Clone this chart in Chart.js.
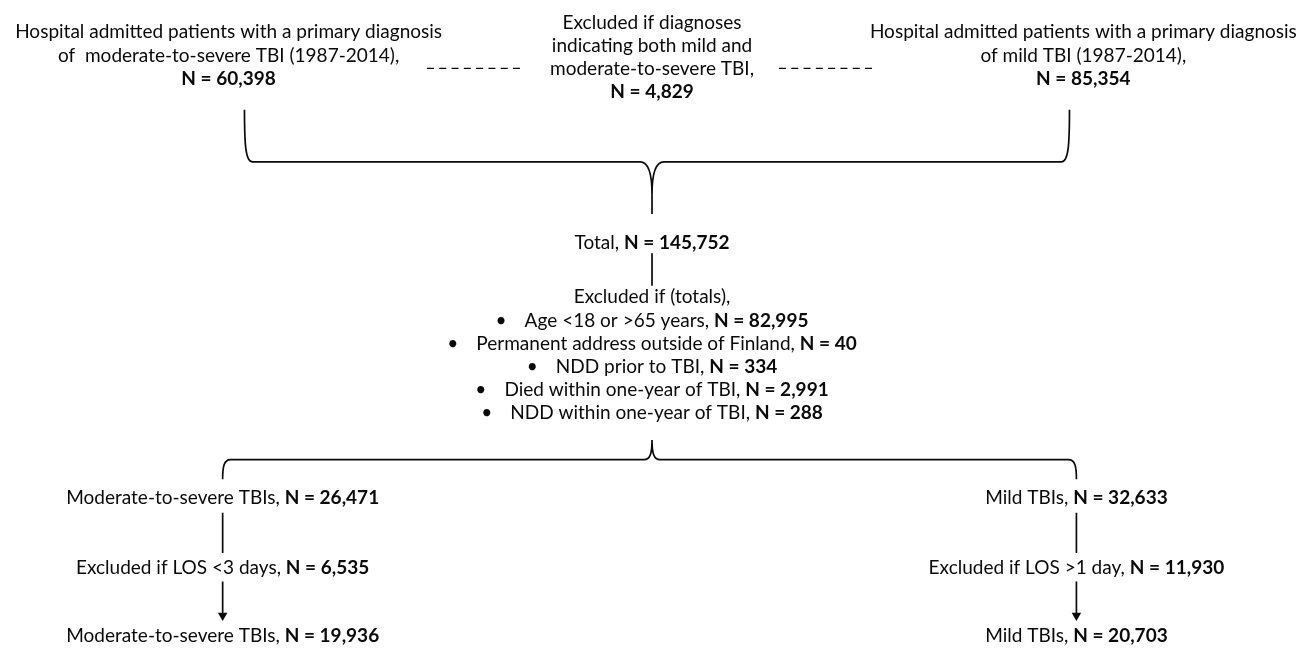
<!DOCTYPE html>
<html>
<head>
<meta charset="utf-8">
<script src="https://cdn.jsdelivr.net/npm/chart.js@4.4.1/dist/chart.umd.min.js"></script>
<style>
  html, body { margin: 0; background: #fff; }
  #wrap { width: 1308px; height: 651px; position: relative; }
</style>
</head>
<body>
<div id="wrap"><canvas id="flow"></canvas></div>
<script>
(function () {
  'use strict';

  // ---- data ----
  const sourceLabels = [
    ['Hospital admitted patients with a primary diagnosis', 'of  moderate-to-severe TBI (1987-2014),'],
    ['Hospital admitted patients with a primary diagnosis', 'of mild TBI (1987-2014),'],
  ];
  const sourceCounts = [60398, 85354];
  const overlapLabel = ['Excluded if diagnoses', 'indicating both mild and', 'moderate-to-severe TBI,'];
  const overlapCount = 4829;
  const totalCount = 145752;
  const exclusionTitle = 'Excluded if (totals),';
  const exclusionReasons = [
    'Age <18 or >65 years',
    'Permanent address outside of Finland',
    'NDD prior to TBI',
    'Died within one-year of TBI',
    'NDD within one-year of TBI',
  ];
  const exclusionCounts = [82995, 40, 334, 2991, 288];
  const groupNames = ['Moderate-to-severe TBIs', 'Mild TBIs'];
  const groupCounts = [26471, 32633];
  const losRules = ['Excluded if LOS <3 days', 'Excluded if LOS >1 day'];
  const losCounts = [6535, 11930];
  const finalCounts = [19936, 20703];

  // ---- layout (canvas units, 1:1 with pixels; y = text baselines) ----
  const W = 1308, H = 651;
  const topX = [225, 652, 1087];
  const lowX = [219, 1080];
  const midX = 652;
  const topRowY = 33, topLH = 24;
  const midTopY = 23.5, midLH = 23.4;
  const totalY = 248;
  const exclY = 303, exclLH = 23.6;
  const braceTop = { left: 241, right: 1073, top: 106, bar: 159, tip: 192, tail: 212 };
  const braceLow = { left: 219, right: 1080, drop: 482, bar: 462, tip: 442 };
  const groupY = 507, losY = 578, finalY = 647;
  const dashY = 64;
  const dashSpans = [[425, 521], [780, 876]];

  const INK = '#0a0a0a';
  const FAMILY = 'Lato, "Open Sans", sans-serif';

  function fmt(n) { return n.toLocaleString('en-US'); }
  function nPart(n) { return ['N = ' + fmt(n), true]; }

  let FS = 18;
  (function fitSize() {
    const c = document.createElement('canvas').getContext('2d');
    c.font = '20px ' + FAMILY;
    const w = c.measureText(sourceLabels[0][0]).width;
    FS = Math.min(20, 20 * 427 / w);
  })();

  function fontOf(bold) { return (bold ? 'bold ' : '') + FS.toFixed(2) + 'px ' + FAMILY; }

  // text lines: [x, baselineY, parts]
  function buildText() {
    const lines = [];
    [0, 1].forEach(i => {
      const x = i === 0 ? topX[0] : topX[2];
      sourceLabels[i].forEach((t, k) => lines.push([x, topRowY + k * topLH, [[t, false]]]));
      lines.push([x, topRowY + 2 * topLH, [nPart(sourceCounts[i])]]);
    });
    overlapLabel.forEach((t, k) => lines.push([topX[1], midTopY + k * midLH, [[t, false]]]));
    lines.push([topX[1], midTopY + 3 * midLH, [nPart(overlapCount)]]);
    lines.push([midX, totalY, [['Total, ', false], nPart(totalCount)]]);
    lines.push([midX, exclY, [[exclusionTitle, false]]]);
    exclusionReasons.forEach((r, k) => {
      lines.push([midX, exclY + (k + 1) * exclLH, [['\u2022', false], [null, 18], [r + ', ', false], nPart(exclusionCounts[k])]]);
    });
    [0, 1].forEach(i => {
      lines.push([lowX[i], groupY, [[groupNames[i] + ', ', false], nPart(groupCounts[i])]]);
      lines.push([lowX[i], losY, [[losRules[i] + ', ', false], nPart(losCounts[i])]]);
      lines.push([lowX[i], finalY, [[groupNames[i] + ', ', false], nPart(finalCounts[i])]]);
    });
    return lines;
  }

  function drawRich(ctx, px, py, parts) {
    let total = 0;
    const widths = parts.map(p => {
      if (p[0] === null) return p[1];
      ctx.font = fontOf(p[1]);
      return ctx.measureText(p[0]).width;
    });
    widths.forEach(w => { total += w; });
    let x = px - total / 2;
    parts.forEach((p, i) => {
      if (p[0] !== null) {
        ctx.font = fontOf(p[1]);
        ctx.fillText(p[0], x, py);
      }
      x += widths[i];
    });
  }

  const flowPlugin = {
    id: 'flowText',
    afterDatasetsDraw(chart) {
      const ctx = chart.ctx;
      const sx = v => chart.scales.x.getPixelForValue(v);
      const sy = v => chart.scales.y.getPixelForValue(v);
      ctx.save();
      ctx.strokeStyle = INK;
      ctx.lineWidth = 1.7;
      ctx.lineJoin = 'round';

      // upper brace (opens up, tip down)
      const b = braceTop;
      ctx.beginPath();
      ctx.moveTo(sx(b.left), sy(b.top));
      ctx.bezierCurveTo(sx(b.left), sy(b.top + 35), sx(b.left + 1), sy(b.bar), sx(b.left + 8), sy(b.bar));
      ctx.lineTo(sx(midX - 12), sy(b.bar));
      ctx.bezierCurveTo(sx(midX - 4), sy(b.bar), sx(midX), sy(b.bar + 10), sx(midX), sy(b.tip));
      ctx.moveTo(sx(b.right), sy(b.top));
      ctx.bezierCurveTo(sx(b.right), sy(b.top + 35), sx(b.right - 1), sy(b.bar), sx(b.right - 8), sy(b.bar));
      ctx.lineTo(sx(midX + 12), sy(b.bar));
      ctx.bezierCurveTo(sx(midX + 4), sy(b.bar), sx(midX), sy(b.bar + 10), sx(midX), sy(b.tip));
      ctx.lineTo(sx(midX), sy(b.tail));
      ctx.stroke();

      // lower brace (opens down, tip up)
      const c = braceLow;
      ctx.beginPath();
      ctx.moveTo(sx(c.left), sy(c.drop));
      ctx.bezierCurveTo(sx(c.left), sy(c.bar + 8), sx(c.left + 1), sy(c.bar), sx(c.left + 8), sy(c.bar));
      ctx.lineTo(sx(midX - 8), sy(c.bar));
      ctx.bezierCurveTo(sx(midX - 2), sy(c.bar), sx(midX), sy(c.bar - 6), sx(midX), sy(c.tip));
      ctx.moveTo(sx(c.right), sy(c.drop));
      ctx.bezierCurveTo(sx(c.right), sy(c.bar + 8), sx(c.right - 1), sy(c.bar), sx(c.right - 8), sy(c.bar));
      ctx.lineTo(sx(midX + 8), sy(c.bar));
      ctx.bezierCurveTo(sx(midX + 2), sy(c.bar), sx(midX), sy(c.bar - 6), sx(midX), sy(c.tip));
      ctx.stroke();

      // text
      ctx.fillStyle = INK;
      ctx.textAlign = 'left';
      ctx.textBaseline = 'alphabetic';
      buildText().forEach(l => drawRich(ctx, sx(l[0]), sy(l[1]), l[2]));
      ctx.restore();
    },
  };

  function seg(x0, y0, x1, y1) { return [{ x: x0, y: y0 }, { x: x1, y: y1 }]; }

  const base = { showLine: true, borderColor: INK, borderWidth: 1.7, pointRadius: 0, clip: false, fill: false };
  const datasets = [];
  dashSpans.forEach(s => datasets.push(Object.assign({}, base, { data: seg(s[0], dashY, s[1], dashY), borderDash: [7, 5.3], borderWidth: 1.4 })));
  datasets.push(Object.assign({}, base, { data: seg(midX, 252, midX, 285) }));
  lowX.forEach(x => {
    datasets.push(Object.assign({}, base, { data: seg(x, 516, x, 557) }));
    datasets.push(Object.assign({}, base, {
      data: seg(x, 586, x, 620.5),
      pointRadius: [0, 5.5],
      pointStyle: 'triangle',
      rotation: 180,
      pointBackgroundColor: INK,
      pointBorderColor: INK,
      pointBorderWidth: 0,
    }));
  });

  new Chart(document.getElementById('flow'), {
    type: 'scatter',
    data: { datasets },
    options: {
      responsive: true,
      maintainAspectRatio: false,
      animation: false,
      events: [],
      layout: { padding: 0 },
      plugins: { legend: { display: false }, tooltip: { enabled: false } },
      scales: {
        x: { type: 'linear', min: 0, max: W, display: false },
        y: { type: 'linear', min: 0, max: H, reverse: true, display: false },
      },
    },
    plugins: [flowPlugin],
  });
})();
</script>
</body>
</html>
